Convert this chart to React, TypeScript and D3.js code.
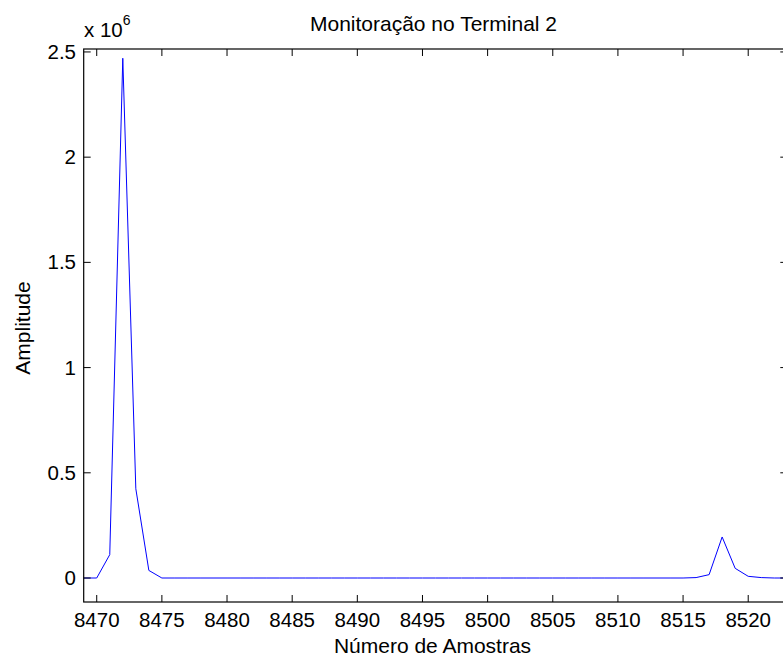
import React from "react";
import * as d3 from "d3";

const samples = [
  8469, 8470, 8471, 8472, 8473, 8474, 8475, 8476, 8477, 8478, 8479, 8480, 8481, 8482,
  8483, 8484, 8485, 8486, 8487, 8488, 8489, 8490, 8491, 8492, 8493, 8494, 8495, 8496,
  8497, 8498, 8499, 8500, 8501, 8502, 8503, 8504, 8505, 8506, 8507, 8508, 8509, 8510,
  8511, 8512, 8513, 8514, 8515, 8516, 8517, 8518, 8519, 8520, 8521, 8522, 8523,
];
const amplitude = [
  0, 0, 111000, 2470000, 424000, 36000, 0, 0, 0, 0, 0, 0, 0, 0,
  0, 0, 0, 0, 0, 0, 0, 0, 0, 0, 0, 0, 0, 0,
  0, 0, 0, 0, 0, 0, 0, 0, 0, 0, 0, 0, 0, 0,
  0, 0, 0, 0, 0, 2000, 16000, 195000, 46000, 8000, 2000, 0, 0,
];
const xTicks = [8470, 8475, 8480, 8485, 8490, 8495, 8500, 8505, 8510, 8515, 8520];
const yTicks = [0, 500000, 1000000, 1500000, 2000000, 2500000];
const yTickLabels = ["0", "0.5", "1", "1.5", "2", "2.5"];

const W = 783;
const H = 659;
const left = 83.7;
const right = 787.3;
const top = 49;
const bottom = 602;
const font = "'Liberation Sans', Arial, Helvetica, sans-serif";
const tickLen = 7;

export default function App() {
  const x = d3.scaleLinear().domain([8469, 8523]).range([left, right]);
  const y = d3.scaleLinear().domain([-114000, 2514000]).range([bottom, top]);
  const pts: [number, number][] = samples.map((s, i) => [s, amplitude[i]]);
  const line = d3
    .line<[number, number]>()
    .x((d) => x(d[0]))
    .y((d) => y(d[1]));

  return (
    <svg
      width={W}
      height={H}
      style={{ position: "absolute", left: 0, top: 0, background: "#fff", overflow: "hidden" }}
      fontFamily={font}
    >
      <rect x={0} y={0} width={W} height={H} fill="#fff" />
      <defs>
        <clipPath id="plotclip">
          <rect x={left} y={top} width={right - left} height={bottom - top} />
        </clipPath>
      </defs>
      <path
        d={line(pts) || ""}
        fill="none"
        stroke="#0000ff"
        strokeWidth={1}
        clipPath="url(#plotclip)"
      />
      <rect
        x={left}
        y={top}
        width={right - left}
        height={bottom - top}
        fill="none"
        stroke="#000"
        strokeWidth={1.2}
      />
      {xTicks.map((t) => (
        <g key={"x" + t}>
          <line x1={x(t)} x2={x(t)} y1={bottom} y2={bottom - tickLen} stroke="#000" strokeWidth={1} />
          <line x1={x(t)} x2={x(t)} y1={top} y2={top + tickLen} stroke="#000" strokeWidth={1} />
          <text x={x(t)} y={627} textAnchor="middle" fontSize={20.5} fill="#000">
            {t}
          </text>
        </g>
      ))}
      {yTicks.map((t, i) => (
        <g key={"y" + t}>
          <line x1={left} x2={left + tickLen} y1={y(t)} y2={y(t)} stroke="#000" strokeWidth={1} />
          <line x1={right} x2={right - tickLen} y1={y(t)} y2={y(t)} stroke="#000" strokeWidth={1} />
          <text x={76} y={y(t) + 7} textAnchor="end" fontSize={20.5} fill="#000">
            {yTickLabels[i]}
          </text>
        </g>
      ))}
      <text x={84} y={37} fontSize={20.5} fill="#000">
        x 10
        <tspan dy={-12} fontSize={14}>
          6
        </tspan>
      </text>
      <text x={433.5} y={31} textAnchor="middle" fontSize={21} fill="#000">
        Monitoração no Terminal 2
      </text>
      <text x={432.5} y={653} textAnchor="middle" fontSize={21} fill="#000">
        Número de Amostras
      </text>
      <text
        transform={`translate(30,328) rotate(-90)`}
        textAnchor="middle"
        fontSize={21}
        fill="#000"
      >
        Amplitude
      </text>
    </svg>
  );
}
